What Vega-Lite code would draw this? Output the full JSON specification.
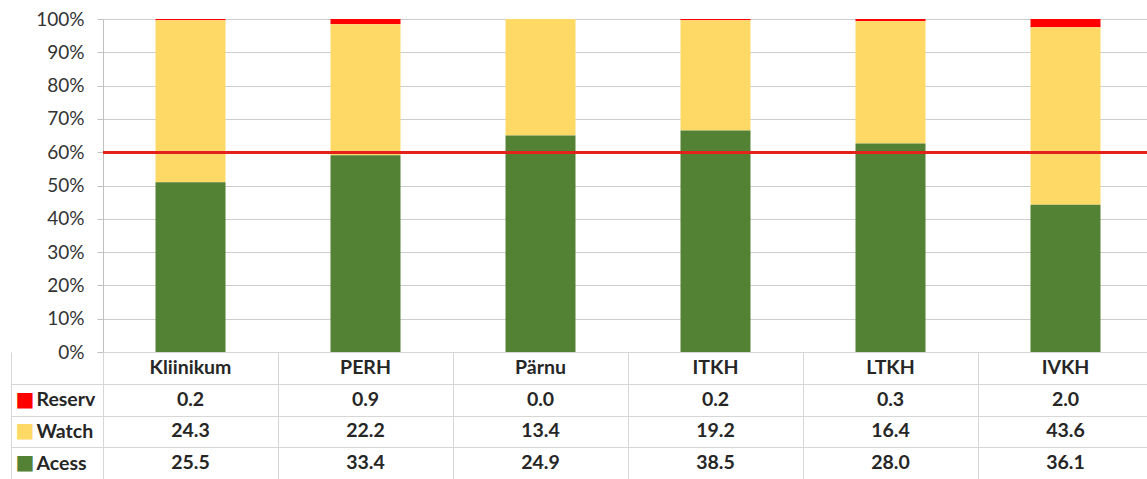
{
  "$schema": "https://vega.github.io/schema/vega-lite/v6.json",
  "padding": {"left": 10, "top": 10, "right": 0, "bottom": 0},
  "background": "white",
  "config": {"view": {"stroke": null}, "font": "Lato", "concat": {"spacing": 0}},
  "datasets": {
    "seriesOrder": [
      {"series": "Acess", "rank": 1},
      {"series": "Watch", "rank": 2},
      {"series": "Reserv", "rank": 3}
    ]
  },
  "data": {"values": [
    {"cat": "Kliinikum", "series": "Reserv", "value": 0.2},
    {"cat": "Kliinikum", "series": "Watch", "value": 24.3},
    {"cat": "Kliinikum", "series": "Acess", "value": 25.5},
    {"cat": "PERH", "series": "Reserv", "value": 0.9},
    {"cat": "PERH", "series": "Watch", "value": 22.2},
    {"cat": "PERH", "series": "Acess", "value": 33.4},
    {"cat": "Pärnu", "series": "Reserv", "value": 0.0},
    {"cat": "Pärnu", "series": "Watch", "value": 13.4},
    {"cat": "Pärnu", "series": "Acess", "value": 24.9},
    {"cat": "ITKH", "series": "Reserv", "value": 0.2},
    {"cat": "ITKH", "series": "Watch", "value": 19.2},
    {"cat": "ITKH", "series": "Acess", "value": 38.5},
    {"cat": "LTKH", "series": "Reserv", "value": 0.3},
    {"cat": "LTKH", "series": "Watch", "value": 16.4},
    {"cat": "LTKH", "series": "Acess", "value": 28.0},
    {"cat": "IVKH", "series": "Reserv", "value": 2.0},
    {"cat": "IVKH", "series": "Watch", "value": 43.6},
    {"cat": "IVKH", "series": "Acess", "value": 36.1}
  ]},
  "spacing": 0,
  "bounds": "flush",
  "resolve": {"scale": {"x": "independent", "y": "independent", "color": "independent"}},
  "vconcat": [
    {
      "width": 1050,
      "height": 333,
      "layer": [
        {
          "transform": [{"lookup": "series", "from": {"data": {"name": "seriesOrder"}, "key": "series", "fields": ["rank"]}}],
          "mark": {"type": "bar"},
          "encoding": {
            "x": {"field": "cat", "type": "nominal", "sort": ["Kliinikum", "PERH", "Pärnu", "ITKH", "LTKH", "IVKH"], "scale": {"paddingInner": 0.6, "paddingOuter": 0.3}, "axis": null},
            "y": {"field": "value", "type": "quantitative", "stack": "normalize", "scale": {"domain": [0, 1]},
              "axis": {"values": [0, 0.1, 0.2, 0.3, 0.4, 0.5, 0.6, 0.7, 0.8, 0.9, 1], "tickCount": 20, "labelOverlap": false, "format": ".0%", "title": null, "labelFontSize": 19, "labelColor": "#333333", "tickSize": 6, "tickColor": "#c0c0c0", "domainColor": "#c0c0c0", "gridColor": "#cccccc", "labelPadding": 13, "grid": true}},
            "color": {"field": "series", "type": "nominal", "scale": {"domain": ["Reserv", "Watch", "Acess"], "range": ["#FF0000", "#FFD966", "#548235"]}, "legend": null},
            "order": {"field": "rank", "type": "quantitative", "sort": "ascending"}
          }
        },
        {
          "mark": {"type": "rule", "color": "#E3231B", "strokeWidth": 2.5},
          "encoding": {"y": {"datum": 0.6,
            "axis": {"values": [0, 0.1, 0.2, 0.3, 0.4, 0.5, 0.6, 0.7, 0.8, 0.9, 1], "tickCount": 20, "labelOverlap": false, "format": ".0%", "title": null, "labelFontSize": 19, "labelColor": "#333333", "tickSize": 6, "tickColor": "#c0c0c0", "domainColor": "#c0c0c0", "gridColor": "#cccccc", "labelPadding": 13, "grid": true}}}
        }
      ]
    },
    {
      "width": 1050,
      "height": 127,
      "resolve": {"axis": {"y": "independent"}},
      "layer": [
        {
          "mark": {"type": "text", "fontWeight": "bold", "fontSize": 19.5, "color": "#262626"},
          "encoding": {
            "x": {"field": "cat", "type": "nominal", "sort": ["Kliinikum", "PERH", "Pärnu", "ITKH", "LTKH", "IVKH"], "scale": {"paddingInner": 0, "paddingOuter": 0},
              "axis": {"orient": "bottom", "labels": false, "ticks": false, "domain": false, "grid": true, "tickBand": "extent", "gridColor": "#d6d6d6", "title": null}},
            "y": {"field": "series", "type": "nominal", "scale": {"domain": ["hdr", "Reserv", "Watch", "Acess"], "paddingInner": 0, "paddingOuter": 0},
              "axis": {"orient": "left", "title": null, "domain": false, "grid": true, "gridColor": "#d6d6d6", "tickBand": "extent", "ticks": false, "tickSize": 0,
                "labelExpr": "datum.value === 'hdr' ? '' : datum.label",
                "labelAlign": "left", "labelBaseline": "middle", "labelPadding": 67, "labelFontSize": 19.5, "labelFontWeight": "bold", "labelColor": "#262626"}},
            "text": {"field": "value", "type": "quantitative", "format": ".1f"}
          }
        },
        {
          "transform": [{"filter": "datum.series === 'Acess'"}],
          "mark": {"type": "text", "fontWeight": "bold", "fontSize": 19.5, "color": "#262626"},
          "encoding": {
            "x": {"field": "cat", "type": "nominal", "sort": ["Kliinikum", "PERH", "Pärnu", "ITKH", "LTKH", "IVKH"]},
            "y": {"datum": "hdr", "axis": null},
            "text": {"field": "cat", "type": "nominal"}
          }
        },
        {
          "mark": {"type": "text", "text": ""},
          "encoding": {
            "x": {"field": "cat", "type": "nominal", "sort": ["Kliinikum", "PERH", "Pärnu", "ITKH", "LTKH", "IVKH"]},
            "y": {"field": "series", "type": "nominal",
              "axis": {"orient": "left", "title": null, "offset": 92, "domain": true, "domainColor": "#d6d6d6", "grid": false, "labels": false, "ticks": true, "tickBand": "extent", "tickColor": "#d6d6d6",
                "tickSize": {"condition": {"test": "!!datum.extra", "value": 0}, "value": -92}}}
          }
        },
        {
          "mark": {"type": "text", "text": ""},
          "encoding": {
            "x": {"field": "cat", "type": "nominal", "sort": ["Kliinikum", "PERH", "Pärnu", "ITKH", "LTKH", "IVKH"]},
            "y": {"field": "series", "type": "nominal",
              "axis": {"orient": "left", "title": null, "offset": 92, "domain": false, "grid": false, "ticks": false, "tickSize": 0, "labelAlign": "left", "labelBaseline": "middle", "labelPadding": -4, "labelFont": "DejaVu Sans", "labelFontSize": 20,
                "labelExpr": "datum.value === 'hdr' ? '' : '■'",
                "labelColor": {"condition": [{"test": "datum.value === 'Reserv'", "value": "#FF0000"}, {"test": "datum.value === 'Watch'", "value": "#FFD966"}], "value": "#548235"}}}
          }
        }
      ]
    }
  ]
}
